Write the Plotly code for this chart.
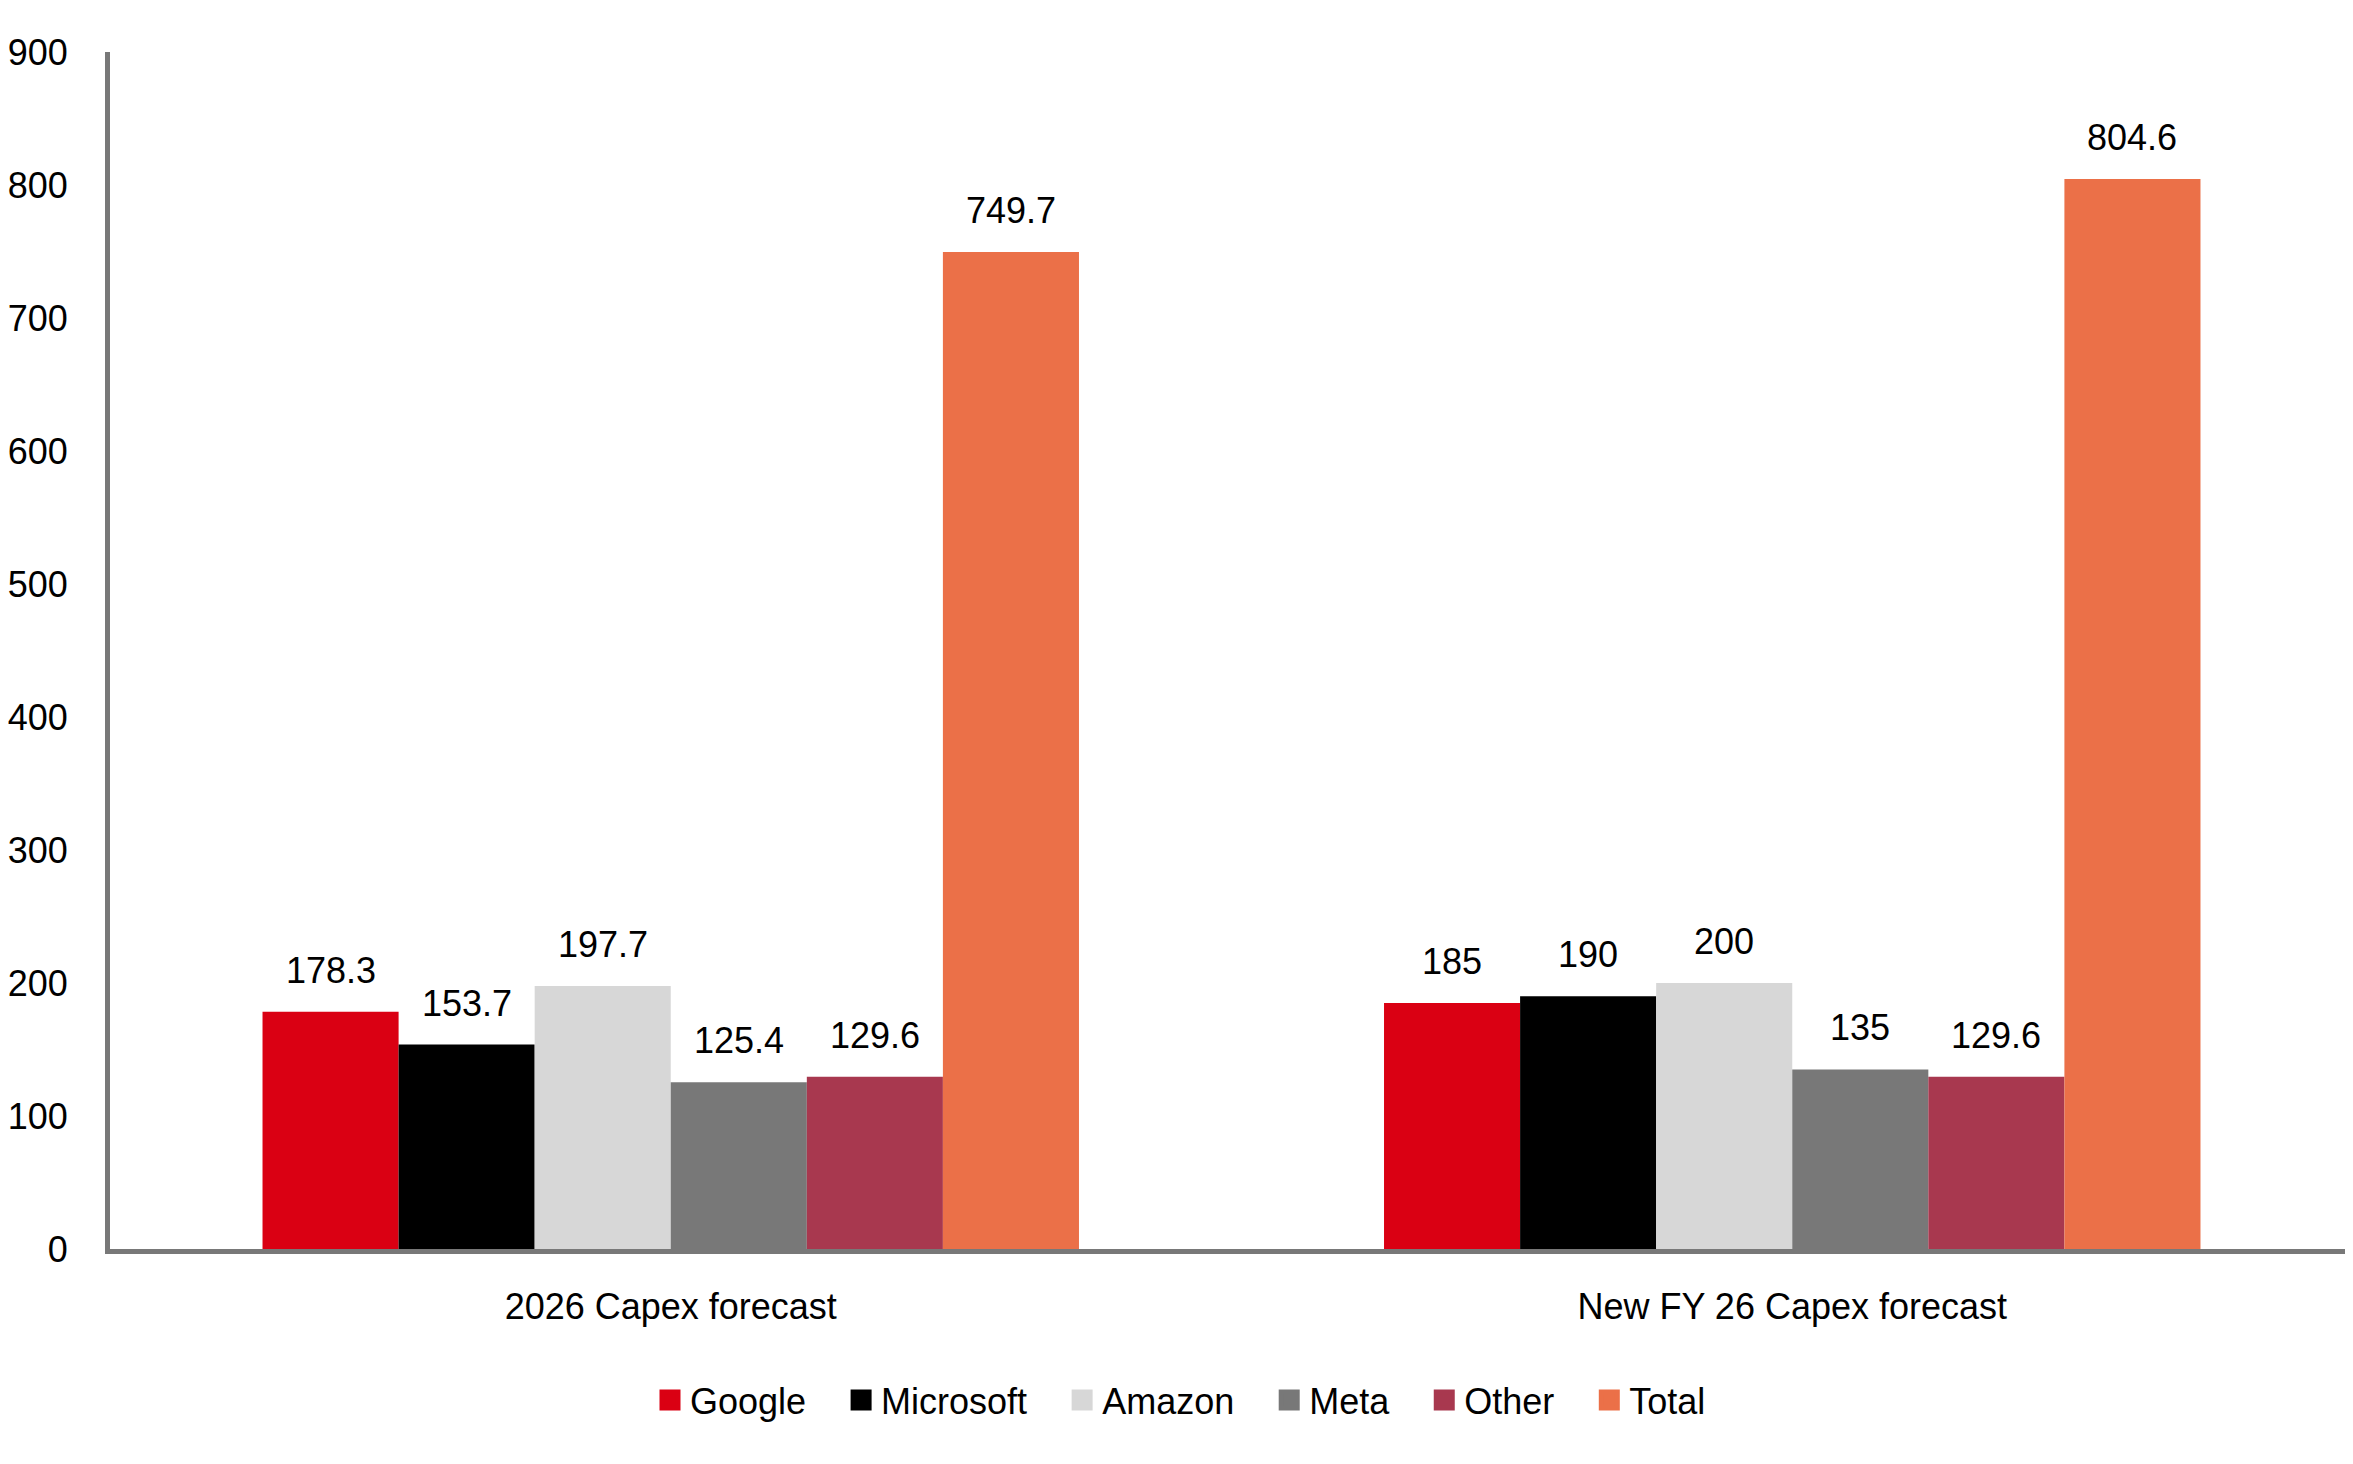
import plotly.graph_objects as go

categories = ["2026 Capex forecast", "New FY 26 Capex forecast"]
series_names = ["Google", "Microsoft", "Amazon", "Meta", "Other", "Total"]
google = [178.3, 185]
microsoft = [153.7, 190]
amazon = [197.7, 200]
meta = [125.4, 135]
other = [129.6, 129.6]
total = [749.7, 804.6]
label_text = [["178.3", "185"], ["153.7", "190"], ["197.7", "200"],
              ["125.4", "135"], ["129.6", "129.6"], ["749.7", "804.6"]]
y_ticks = [0, 100, 200, 300, 400, 500, 600, 700, 800, 900]

series_values = [google, microsoft, amazon, meta, other, total]
colors = ["#DA0013", "#000000", "#D7D7D7", "#787878", "#A8384F", "#EB7048"]

FONT = "Liberation Sans"
FS = 36
BARGAP = 0.272

fig = go.Figure()
for name, vals, col in zip(series_names, series_values, colors):
    fig.add_trace(go.Bar(name=name, x=categories, y=vals, marker_color=col,
                         marker_line_width=0, showlegend=False))

# legend entries (square swatches)
for k, (name, col) in enumerate(zip(series_names, colors)):
    pad = "\u00a0\u00a0\u00a0" if k < len(series_names) - 1 else ""
    fig.add_trace(go.Scatter(name=name + pad, x=[None], y=[None], mode="markers",
                             marker=dict(symbol="square", size=16, color=col,
                                         line=dict(color=col, width=5)),
                             showlegend=True, hoverinfo="skip"))

n = len(series_names)
bw = (1 - BARGAP) / n
annotations = []
for i, (vals, texts) in enumerate(zip(series_values, label_text)):
    for j, (v, t) in enumerate(zip(vals, texts)):
        annotations.append(dict(
            x=j + (i - (n - 1) / 2) * bw, y=v, xref="x", yref="y",
            text=t, showarrow=False, yanchor="bottom", xanchor="center",
            yshift=19, font=dict(family=FONT, size=FS, color="#000000")))

fig.update_layout(
    width=2345, height=1456,
    margin=dict(l=100, r=0, t=44, b=215),
    paper_bgcolor="white", plot_bgcolor="white",
    barmode="group", bargap=BARGAP, bargroupgap=0,
    font=dict(family=FONT, size=FS, color="#000000"),
    showlegend=True,
    legend=dict(orientation="h", xref="container", yref="container",
                x=0.5, xanchor="center", y=1 - 1392 / 1456, yanchor="middle",
                font=dict(family=FONT, size=FS, color="#000000"),
                traceorder="normal", itemsizing="trace"),
    annotations=annotations,
)
fig.update_xaxes(showline=True, linecolor="#787878", linewidth=5,
                 showgrid=False, ticks="outside", ticklen=22,
                 tickcolor="rgba(0,0,0,0)", zeroline=False)
fig.update_yaxes(range=[0, 900], tickvals=y_ticks, showline=True,
                 linecolor="#787878", linewidth=5, showgrid=False,
                 zeroline=False, ticks="outside", ticklen=30,
                 tickcolor="rgba(0,0,0,0)")

fig.write_html("out.html")
